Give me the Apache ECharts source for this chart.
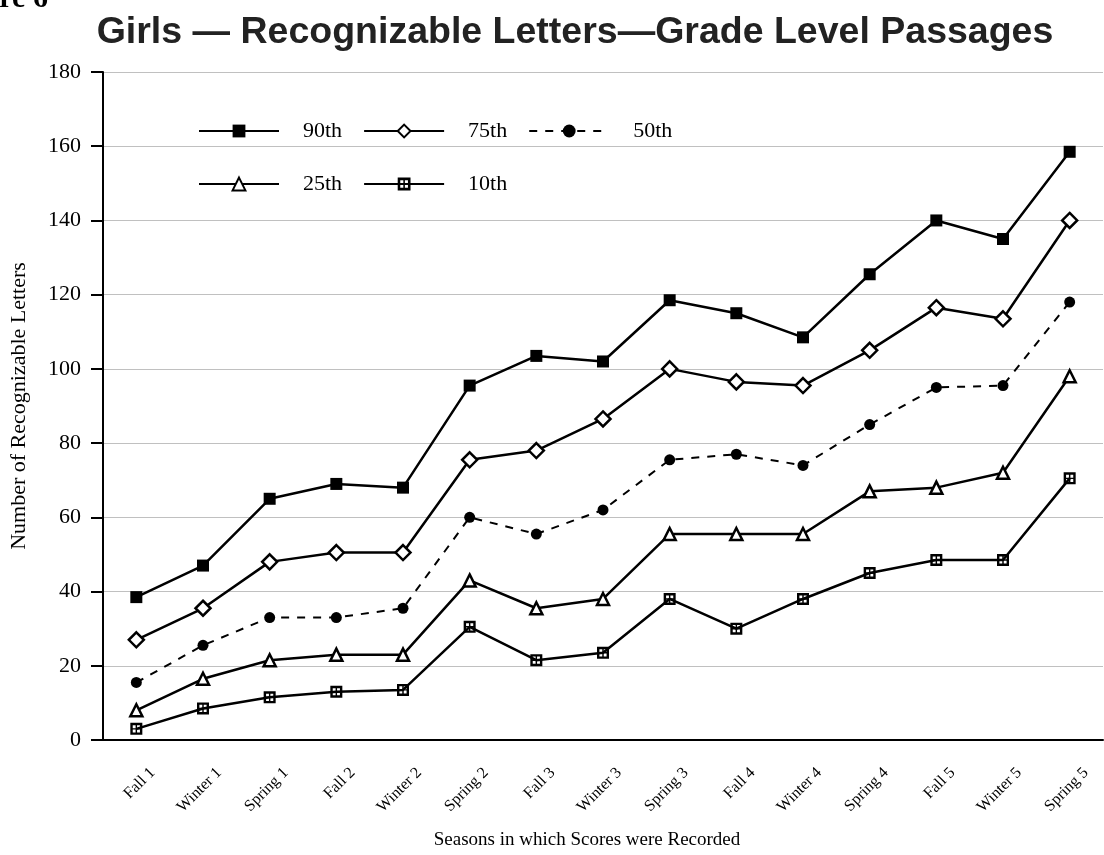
<!DOCTYPE html>
<html>
<head>
<meta charset="utf-8">
<script src="https://cdn.jsdelivr.net/npm/echarts@6/dist/echarts.min.js"></script>
<style>
  html, body { margin: 0; padding: 0; background: #fff; }
  #chart { width: 1104px; height: 855px; }
</style>
</head>
<body>
<div id="chart"></div>
<script>
// seasons on the x axis
const seasons = ['Fall 1', 'Winter 1', 'Spring 1', 'Fall 2', 'Winter 2', 'Spring 2', 'Fall 3',
  'Winter 3', 'Spring 3', 'Fall 4', 'Winter 4', 'Spring 4', 'Fall 5', 'Winter 5', 'Spring 5']

// percentile values
const p90 = [38.5, 47, 65, 69, 68, 95.5, 103.5, 102, 118.5, 115, 108.5, 125.5, 140, 135, 158.5]
const p75 = [27, 35.5, 48, 50.5, 50.5, 75.5, 78, 86.5, 100, 96.5, 95.5, 105, 116.5, 113.5, 140]
const p50 = [15.5, 25.5, 33, 33, 35.5, 60, 55.5, 62, 75.5, 77, 74, 85, 95, 95.5, 118]
const p25 = [8, 16.5, 21.5, 23, 23, 43, 35.5, 38, 55.5, 55.5, 55.5, 67, 68, 72, 98]
const p10 = [3, 8.5, 11.5, 13, 13.5, 30.5, 21.5, 23.5, 38, 30, 38, 45, 48.5, 48.5, 70.5]

const serif = '"Liberation Serif", "DejaVu Serif", serif'
// square with a cross inside (holes drawn counter-clockwise)
const boxCross = 'path://M0,0H10V10H0Z M2,2V4.4H4.4V2Z M5.6,2V4.4H8V2Z M2,5.6V8H4.4V5.6Z M5.6,5.6V8H8V5.6Z'

function line(name, data, symbol, size, extra) {
  return Object.assign({
    name: name,
    type: 'line',
    data: data,
    symbol: symbol,
    symbolSize: size,
    showAllSymbol: true,
    z: 3,
    lineStyle: { color: '#000', width: 2.5 },
    itemStyle: { color: '#000', borderColor: '#000', borderWidth: 0 }
  }, extra || {})
}

const legendText = {
  fontFamily: serif, fontSize: 22, color: '#000',
  padding: [0, 0, 0, 19]
}

const chart = echarts.init(document.getElementById('chart'))
chart.setOption({
  animation: false,
  backgroundColor: '#fff',
  title: {
    text: 'Girls — Recognizable Letters—Grade Level Passages',
    left: 570,
    textAlign: 'center',
    top: 9,
    textStyle: { fontFamily: '"Liberation Sans", Arial, sans-serif', fontWeight: 'bold', fontSize: 37.5, color: '#222' }
  },
  graphic: [{
    type: 'text',
    left: -59,
    top: -16,
    style: { text: 'Figure 6', font: 'bold 30px "Liberation Serif", serif', fill: '#000' }
  }],
  legend: [{
    data: ['90th', '75th', '50th'],
    left: 193, top: 115,
    itemWidth: 80, itemHeight: 16, itemGap: 21,
    textStyle: legendText
  }, {
    data: ['25th', '10th'],
    left: 193, top: 168,
    itemWidth: 80, itemHeight: 16, itemGap: 21,
    textStyle: legendText
  }],
  grid: { left: 101, right: 1, top: 72, bottom: 114 },
  xAxis: {
    type: 'category',
    data: seasons,
    name: 'Seasons in which Scores were Recorded',
    nameLocation: 'middle',
    nameGap: 91,
    nameTextStyle: { fontFamily: serif, fontSize: 19, color: '#000', padding: [0, 32, 0, 0] },
    axisLine: { lineStyle: { color: '#000', width: 2 } },
    axisTick: { alignWithLabel: true, length: 12, lineStyle: { color: '#000', width: 2 } },
    axisLabel: {
      rotate: 45, margin: 14, verticalAlign: 'top', padding: [15, 0, 0, 0],
      fontFamily: serif, fontSize: 16, color: '#000'
    }
  },
  yAxis: {
    type: 'value',
    min: 0, max: 180, interval: 20,
    name: 'Number of Recognizable Letters',
    nameLocation: 'middle',
    nameGap: 73,
    nameTextStyle: { fontFamily: serif, fontSize: 22, color: '#000' },
    axisLine: { show: true, lineStyle: { color: '#000', width: 2 } },
    axisTick: { show: true, length: 12, lineStyle: { color: '#000', width: 2 } },
    axisLabel: { margin: 22, fontFamily: serif, fontSize: 22, color: '#000' },
    splitLine: { lineStyle: { color: '#c0c0c0', width: 1 } }
  },
  series: [
    line('90th', p90, 'rect', 12),
    line('75th', p75, 'diamond', 15, { itemStyle: { color: '#fff', borderColor: '#000', borderWidth: 2.5 } }),
    line('50th', p50, 'circle', 11, { lineStyle: { color: '#000', width: 2, type: [8, 8] } }),
    line('25th', p25, 'triangle', 12, { itemStyle: { color: '#fff', borderColor: '#000', borderWidth: 2.5 } }),
    line('10th', p10, boxCross, 12)
  ]
})
</script>
</body>
</html>
